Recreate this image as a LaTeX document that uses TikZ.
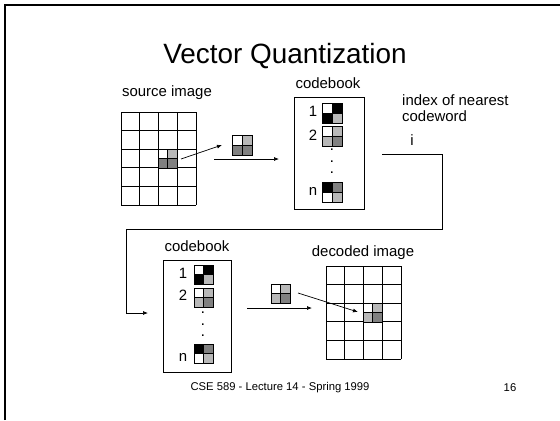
\documentclass[tikz,border=0pt]{standalone}
\usepackage{fontspec}
\setmainfont{Liberation Sans}
\usetikzlibrary{arrows.meta}

\definecolor{cwlight}{gray}{0.72}
\definecolor{cwdark}{gray}{0.5}

\tikzset{
  lbl/.style={font=\fontsize{15}{16}\selectfont, inner sep=0pt},
  vdots/.style={font=\bfseries\fontsize{11}{11.5}\selectfont, inner sep=0pt, align=center},
  arr/.style={line width=0.7bp, -{Latex[length=5bp,width=4bp]}},
  gridline/.style={line width=1bp},
  bookbox/.style={line width=0.8bp},
}

% 2x2 block: top-left corner, half size, colours tl tr bl br
\newcommand{\qblock}[6]{%
  \begin{scope}[shift={#1}, line width=0.8bp]
    \filldraw[fill=#3] (0,0) rectangle (#2,#2);
    \filldraw[fill=#4] (#2,0) rectangle (2*#2,#2);
    \filldraw[fill=#5] (0,#2) rectangle (#2,2*#2);
    \filldraw[fill=#6] (#2,#2) rectangle (2*#2,2*#2);
  \end{scope}}

% 4x5 image grid from its top-left corner
\newcommand{\imggrid}[1]{%
  \begin{scope}[shift={#1}]
    \foreach \c in {0,...,4} \draw[gridline] (\c*18.75,0) -- (\c*18.75,93);
    \foreach \r in {0,...,5} \draw[gridline] (0,\r*18.6) -- (75,\r*18.6);
  \end{scope}}

\begin{document}
\begin{tikzpicture}[x=1bp, y=-1bp]
\useasboundingbox (0,0) rectangle (560,420);
\draw[line width=2bp] (5,420) -- (5,5) -- (560,5);

\node[inner sep=0pt, font=\fontsize{28}{30}\selectfont] (title) at (285,56) {Vector Quantization};

% source image
\node[lbl] (srclbl) at (167,93) {source image};
\imggrid{(121,112)}
\qblock{(158.5,149.2)}{9.35}{white}{cwlight}{cwdark}{cwdark}
\coordinate (pickA) at (181,159);
\coordinate (pickB) at (222,145);
\draw[arr] (pickA) -- (pickB);
\qblock{(232,135)}{10}{white}{cwlight}{cwdark}{cwdark}
\coordinate (sendA) at (214,159);
\coordinate (sendB) at (279,159);
\draw[arr] (sendA) -- (sendB);

% codebook (encoder)
\node[lbl] (book1lbl) at (328,83) {codebook};
\draw[bookbox] (294,97) rectangle (364,209);
\node[lbl] (e1) at (313,111) {1};
\qblock{(322,103)}{10}{white}{black}{black}{cwlight}
\node[lbl] (e2) at (313,135) {2};
\qblock{(322,126)}{10}{white}{cwlight}{cwlight}{cwdark}
\node[vdots] (edots) at (332,161.5) {.\\.\\.};
\node[lbl] (en) at (313,191) {n};
\qblock{(322,182)}{10}{black}{cwdark}{white}{cwlight}

% index
\node[lbl, anchor=west, align=left] (idxlbl) at (402,108) {index of nearest\\codeword};
\node[lbl] (idx) at (412,140) {i};
\coordinate (idxA) at (382,154);
\coordinate (idxB) at (148,313);
\draw[arr] (idxA) -- ++(60,0) |- (126,229) |- (idxB);

% codebook (decoder)
\node[lbl] (book2lbl) at (197,246) {codebook};
\draw[bookbox] (163,260) rectangle (231,372);
\node[lbl] (f1) at (183,273) {1};
\qblock{(194,265)}{9.5}{white}{black}{black}{cwlight}
\node[lbl] (f2) at (183,295) {2};
\qblock{(194,288)}{9.5}{white}{cwlight}{cwlight}{cwdark}
\node[vdots] (fdots) at (203,324.5) {.\\.\\.};
\node[lbl] (fn) at (183,357) {n};
\qblock{(194,344)}{9.5}{black}{cwdark}{white}{cwlight}

% decoded image
\coordinate (outA) at (247,308);
\coordinate (outB) at (312,308);
\draw[arr] (outA) -- (outB);
\qblock{(271,284)}{9.5}{white}{cwlight}{cwlight}{cwdark}
\coordinate (putA) at (298,293);
\coordinate (putB) at (358,312);
\draw[arr] (putA) -- (putB);
\node[lbl] (declbl) at (363,253) {decoded image};
\imggrid{(326,266)}
\qblock{(363.5,303.2)}{9.35}{white}{cwlight}{cwlight}{cwdark}

\node[inner sep=0pt, font=\fontsize{11.3}{12}\selectfont] (foot) at (280,388) {CSE 589 - Lecture 14 - Spring 1999};
\node[inner sep=0pt, font=\fontsize{11.3}{12}\selectfont] (page) at (510,388) {16};
\end{tikzpicture}
\end{document}
